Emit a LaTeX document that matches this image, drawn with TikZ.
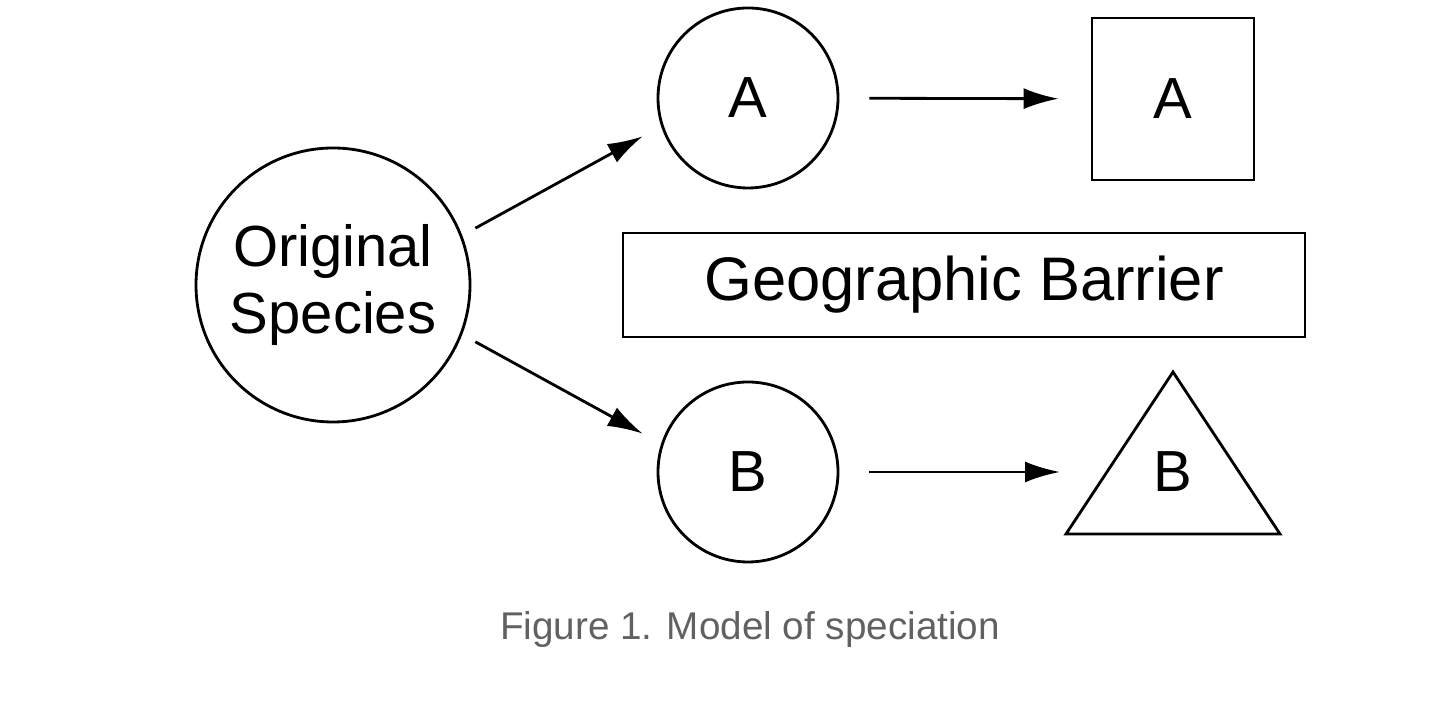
\documentclass[tikz,border=0pt]{standalone}
\usepackage{fontspec}
\setmainfont{Liberation Sans}
\usetikzlibrary{arrows.meta,positioning}
\tikzset{
	spec/.style={circle, draw, line width=1.6pt, font=\fontsize{33}{36}\selectfont, align=center, inner sep=0pt},
	pfeil/.style={line width=1.6pt, -{Latex[length=0.7cm,width=0.42cm]}}
}
\begin{document}
\begin{tikzpicture}[line width=1.6pt]
	\useasboundingbox (0,0) rectangle (28.8,14.04);
	%%Arten
	\node[spec, minimum size=5.48cm] (orig) at (6.66,8.34) {Original\\[2pt]Species};
	\node[spec, minimum size=3.6cm] (cA) at (14.96,12.08) {A};
	\node[spec, minimum size=3.6cm] (cB) at (14.96,4.6) {B};
	\node[draw, line width=1.6pt, minimum size=3.24cm, font=\fontsize{33}{36}\selectfont] (sqA) at (23.46,12.06) {A};
	%%Dreieck
	\draw (21.32,3.36) -- (23.46,6.6) -- (25.6,3.36) -- cycle;
	\node[font=\fontsize{33}{36}\selectfont] (triB) at (23.46,4.6) {B};
	\coordinate (triL) at (21.2,4.6);
	%%Barriere
	\node[draw, line width=1.6pt, minimum width=13.64cm, minimum height=2.08cm, font=\fontsize{35}{38}\selectfont] (barr) at (19.28,8.34) {Geographic Barrier};
	%%Pfeile
	\draw[pfeil, shorten <=0.3cm, shorten >=0.42cm] (orig.21) -- (cA.198);
	\draw[pfeil, shorten <=0.3cm, shorten >=0.42cm] (orig.-21) -- (cB.162);
	\draw[pfeil, shorten <=0.6cm, shorten >=0.64cm] (cA) -- (sqA);
	\draw[pfeil, shorten <=0.6cm] (cB) -- (triL);
	%%Beschriftung
	\node[text=black!62, font=\fontsize{22}{26}\selectfont] (capt) at (15,1.44) {Figure 1. Model of speciation};
\end{tikzpicture}
\end{document}
